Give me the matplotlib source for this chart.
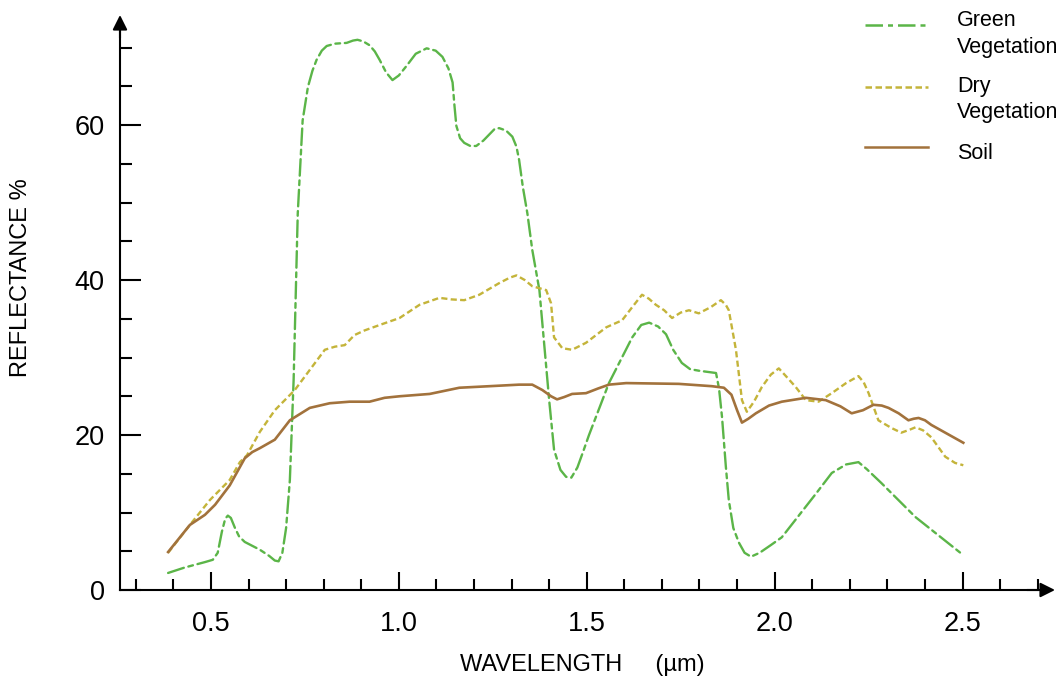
import matplotlib
matplotlib.use('Agg')
from matplotlib import pyplot as plt
from matplotlib.lines import Line2D
from matplotlib.ticker import MultipleLocator

plt.rcParams['font.family'] = ['Liberation Sans', 'DejaVu Sans']

# green vegetation (wavelength um, reflectance %)
green_x = [0.386, 0.430, 0.484, 0.505, 0.518, 0.529, 0.538, 0.545, 0.553, 0.564, 0.575,
           0.590, 0.630, 0.655, 0.670, 0.680, 0.690, 0.700, 0.710, 0.720, 0.731, 0.744,
           0.758, 0.770, 0.781, 0.795, 0.808, 0.830, 0.861, 0.878, 0.890, 0.905, 0.922,
           0.936, 0.949, 0.966, 0.983, 1.000, 1.020, 1.045, 1.074, 1.098, 1.116, 1.132,
           1.143, 1.148, 1.153, 1.163, 1.174, 1.190, 1.206, 1.225, 1.241, 1.255, 1.267,
           1.285, 1.302, 1.313, 1.320, 1.330, 1.342, 1.355, 1.374, 1.400, 1.413, 1.430,
           1.445, 1.459, 1.475, 1.490, 1.506, 1.559, 1.621, 1.645, 1.666, 1.690, 1.711,
           1.730, 1.753, 1.775, 1.798, 1.844, 1.852, 1.860, 1.870, 1.878, 1.890, 1.905,
           1.920, 1.937, 1.960, 1.990, 2.019, 2.111, 2.152, 2.190, 2.223, 2.245, 2.284,
           2.375, 2.502]
green_y = [2.2, 2.9, 3.6, 3.9, 4.8, 7.5, 9.2, 9.6, 9.3, 8.0, 6.9,
           6.2, 5.2, 4.4, 3.8, 3.7, 4.8, 8.0, 14.2, 27.1, 48.6, 60.6,
           64.9, 67.0, 68.4, 69.6, 70.2, 70.5, 70.6, 70.9, 71.0, 70.8, 70.3,
           69.5, 68.4, 66.8, 65.8, 66.4, 67.6, 69.2, 69.9, 69.6, 68.8, 67.3,
           65.5, 62.5, 59.9, 58.3, 57.7, 57.3, 57.3, 58.0, 58.8, 59.5, 59.6,
           59.3, 58.5, 57.2, 55.5, 52.0, 48.6, 43.9, 38.7, 24.5, 18.1, 15.5,
           14.6, 14.5, 15.8, 17.8, 20.0, 26.7, 32.6, 34.2, 34.5, 34.0, 33.0,
           31.0, 29.3, 28.5, 28.3, 28.0, 26.0, 22.3, 16.0, 11.6, 8.0, 6.1,
           4.8, 4.3, 4.8, 5.8, 6.8, 12.5, 15.1, 16.2, 16.5, 15.6, 13.8,
           9.4, 4.5]

# dry vegetation
dry_x = [0.386, 0.444, 0.497, 0.550, 0.577, 0.596, 0.630, 0.670, 0.723, 0.763, 0.803,
         0.830, 0.856, 0.882, 0.909, 0.949, 1.002, 1.055, 1.108, 1.140, 1.174, 1.214,
         1.267, 1.295, 1.313, 1.335, 1.355, 1.392, 1.405, 1.413, 1.435, 1.461, 1.498,
         1.552, 1.594, 1.621, 1.647, 1.665, 1.684, 1.706, 1.727, 1.750, 1.772, 1.798,
         1.830, 1.857, 1.870, 1.878, 1.897, 1.913, 1.926, 1.945, 1.966, 1.990, 2.011,
         2.030, 2.056, 2.083, 2.117, 2.152, 2.190, 2.223, 2.237, 2.250, 2.276, 2.311,
         2.337, 2.360, 2.375, 2.395, 2.417, 2.454, 2.480, 2.502]
dry_y = [4.8, 8.4, 11.6, 14.2, 16.5, 17.4, 20.4, 23.2, 25.8, 28.4, 31.0,
         31.4, 31.6, 32.9, 33.5, 34.2, 35.1, 36.8, 37.7, 37.5, 37.4, 38.1,
         39.6, 40.3, 40.6, 40.0, 39.2, 38.7, 37.0, 32.6, 31.2, 31.0, 31.9,
         33.9, 34.8, 36.5, 38.1, 37.6, 36.8, 36.1, 35.1, 35.8, 36.1, 35.7,
         36.5, 37.4, 36.8, 36.1, 31.0, 24.5, 23.0, 24.3, 26.2, 27.8, 28.6,
         27.6, 26.2, 24.5, 24.3, 25.4, 26.7, 27.6, 26.8, 25.4, 21.9, 20.9,
         20.3, 20.7, 21.0, 20.6, 19.7, 17.2, 16.4, 16.1]

# soil
soil_x = [0.386, 0.444, 0.484, 0.511, 0.550, 0.590, 0.610, 0.630, 0.670, 0.710, 0.763,
          0.816, 0.869, 0.922, 0.962, 1.002, 1.082, 1.161, 1.241, 1.320, 1.355, 1.382,
          1.405, 1.421, 1.440, 1.461, 1.498, 1.530, 1.559, 1.605, 1.745, 1.833, 1.865,
          1.885, 1.900, 1.913, 1.930, 1.950, 1.985, 2.019, 2.083, 2.136, 2.175, 2.205,
          2.235, 2.263, 2.285, 2.303, 2.330, 2.356, 2.370, 2.383, 2.400, 2.417, 2.502]
soil_y = [4.9, 8.4, 9.7, 11.0, 13.5, 17.0, 17.8, 18.3, 19.4, 21.9, 23.5,
          24.1, 24.3, 24.3, 24.8, 25.0, 25.3, 26.1, 26.3, 26.5, 26.5, 25.8,
          25.0, 24.6, 24.9, 25.3, 25.4, 26.0, 26.5, 26.7, 26.6, 26.3, 26.1,
          25.2, 23.2, 21.6, 22.1, 22.8, 23.8, 24.3, 24.8, 24.5, 23.7, 22.8,
          23.2, 23.9, 23.8, 23.5, 22.8, 21.9, 22.1, 22.2, 21.9, 21.3, 19.0]

x_ticks = [0.5, 1.0, 1.5, 2.0, 2.5]
x_labels = ['0.5', '1.0', '1.5', '2.0', '2.5']
y_ticks = [0, 20, 40, 60]

green_col = '#5bb548'
dry_col = '#c4b43a'
soil_col = '#a2723c'

fig = plt.figure(figsize=(10.6, 6.79), dpi=100)
ax = fig.add_axes([120 / 1060, 89 / 679, 935 / 1060, 575 / 679])

ax.plot(green_x, green_y, color=green_col, lw=1.7, dashes=(7, 2, 2, 2),
        solid_joinstyle='round', dash_joinstyle='round', dash_capstyle='round')
ax.plot(dry_x, dry_y, color=dry_col, lw=1.7, dashes=(2.6, 1.4),
        dash_joinstyle='round')
ax.plot(soil_x, soil_y, color=soil_col, lw=1.9, solid_joinstyle='round')

ax.set_xlim(0.258, 2.746)
ax.set_ylim(0, 74.2)

for s in ['top', 'right']:
    ax.spines[s].set_visible(False)
ax.spines['left'].set_linewidth(1.5)
ax.spines['bottom'].set_linewidth(1.5)
ax.spines['left'].set_bounds(0, 72.5)
ax.spines['bottom'].set_bounds(0.258, 2.70)

# arrow heads on the axes
ax.annotate('', xy=(0, 1), xycoords='axes fraction', xytext=(0, 0.96),
            arrowprops=dict(arrowstyle='-|>', color='k', lw=1.5, mutation_scale=22,
                            shrinkA=0, shrinkB=0))
ax.annotate('', xy=(1, 0), xycoords='axes fraction', xytext=(0.97, 0),
            arrowprops=dict(arrowstyle='-|>', color='k', lw=1.5, mutation_scale=22,
                            shrinkA=0, shrinkB=0))

ax.set_xticks(x_ticks)
ax.set_xticklabels(x_labels)
ax.set_yticks(y_ticks)
ax.yaxis.set_minor_locator(MultipleLocator(5))
ax.set_xticks([t / 10 for t in range(3, 28)], minor=True)

ax.tick_params(axis='y', which='major', direction='in', length=15, width=1.5,
               labelsize=19.5, pad=11)
ax.tick_params(axis='y', which='minor', direction='in', length=8.5, width=1.5)
ax.tick_params(axis='x', which='major', direction='in', length=13, width=1.5,
               labelsize=19.5, pad=15)
ax.tick_params(axis='x', which='minor', direction='in', length=8, width=1.5)

ax.set_xlabel('WAVELENGTH     (\u00b5m)', fontsize=17)
ax.set_ylabel('REFLECTANCE %', fontsize=17)
ax.xaxis.set_label_coords(0.494, -0.112)
ax.yaxis.set_label_coords(-0.094, 0.543)

# legend drawn by hand to match the layout
def fy(py):
    return 1 - py / 679

leg = [(green_col, dict(dashes=(7, 2, 2, 2)), 25, [('Green', 25.5), ('Vegetation', 52.5)]),
       (dry_col, dict(dashes=(2.6, 1.4)), 87, [('Dry', 92), ('Vegetation', 118)]),
       (soil_col, dict(), 147, [('Soil', 159)])]
for col, style, hy, texts in leg:
    fig.add_artist(Line2D([865 / 1060, 928 / 1060], [fy(hy), fy(hy)], color=col,
                          lw=1.8, **style))
    for t, by in texts:
        fig.text(957 / 1060, fy(by), t, fontsize=15.5, va='baseline', ha='left')

fig.savefig('out.png', dpi=100)
